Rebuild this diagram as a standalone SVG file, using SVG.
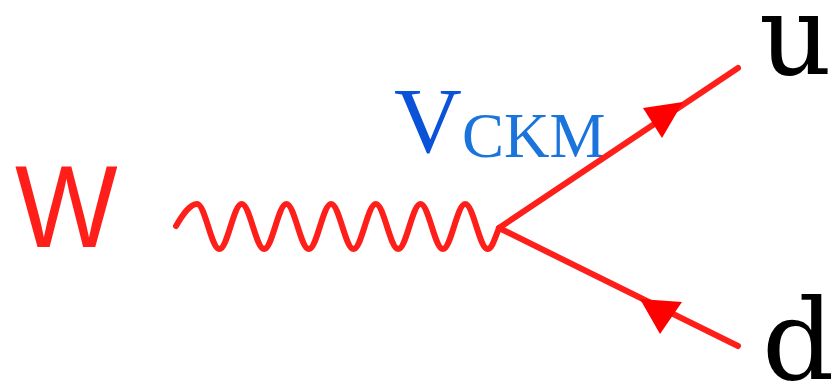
<svg xmlns="http://www.w3.org/2000/svg" width="832" height="381" viewBox="0 0 832 381">
<style>
.line{fill:none;stroke:#ff1f1a;stroke-width:6;stroke-linecap:round;stroke-linejoin:round}
.head{fill:#ff0000}
.q{font-family:"DejaVu Serif",serif;font-size:113px;fill:#000}
</style>
<rect width="832" height="381" fill="#fff"/>
<g id="W">
<text transform="translate(15,247) scale(0.93,1)" font-family="Liberation Sans, Arial, sans-serif" font-size="117" fill="#ff1f1a">W</text>
</g>
<g id="label-vckm">
<text font-family="Liberation Serif, Times New Roman, serif" fill="#0a52d8"><tspan x="394" y="152" font-size="94">V</tspan><tspan x="462" y="157" font-size="63" fill="#1a74dc">CKM</tspan></text>
</g>
<g id="u"><text class="q" x="759" y="74">u</text></g>
<g id="d"><text class="q" x="762" y="379">d</text></g>
<g id="connectors">
<path class="line" d="M176,226 C183,214 190,204 197,204 C205.1,204 211.3,249 219.4,249 S233.6,204 241.7,204 S256,249 264.1,249 S278.3,204 286.4,204 S300.7,249 308.8,249 S323,204 331.1,204 S345.4,249 353.5,249 S367.7,204 375.8,204 S390.1,249 398.2,249 S412.4,204 420.5,204 S434.8,249 442.9,249 S457.1,204 465.2,204 S479.5,249 487.6,249 C492,249 495,238 499,228"/>
<path class="line" d="M499,228 L738,68"/>
<path class="line" d="M499,228 L738,346"/>
<polygon class="head" points="643,108 683,102 662,138"/>
<polygon class="head" points="640,299 682,302 660,334"/>
</g>
</svg>
